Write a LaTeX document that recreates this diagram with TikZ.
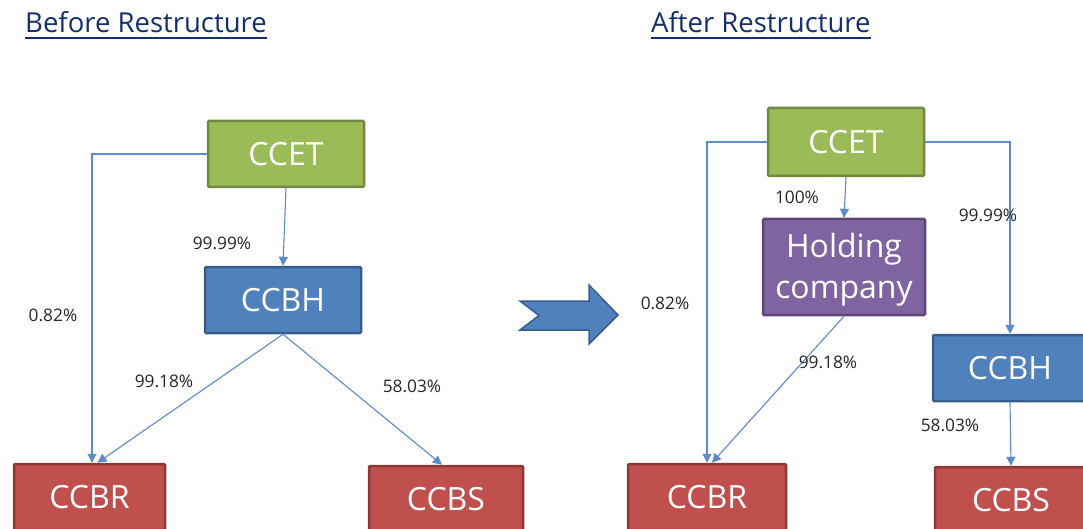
\documentclass[tikz,border=0pt]{standalone}
\usepackage{fontspec}
\setmainfont{Open Sans}
\usetikzlibrary{arrows.meta}
\definecolor{gfill}{HTML}{9BBB59}
\definecolor{gline}{HTML}{71893F}
\definecolor{bfill}{HTML}{4F81BD}
\definecolor{bline}{HTML}{385D8A}
\definecolor{rfill}{HTML}{C0504D}
\definecolor{rline}{HTML}{8C3836}
\definecolor{pfill}{HTML}{8064A2}
\definecolor{pline}{HTML}{5C4776}
\definecolor{conn}{HTML}{5B8BC9}
\definecolor{titlecol}{HTML}{142F6E}
\definecolor{labcol}{HTML}{262626}
\begin{document}
\begin{tikzpicture}[x=1pt,y=-1pt,
  box/.style={draw, line width=2.5pt, rounded corners=1.2pt, inner sep=0pt,
    text=white, font=\fontsize{32}{41}\selectfont, align=center},
  greenbox/.style={box, fill=gfill, draw=gline},
  bluebox/.style={box, fill=bfill, draw=bline},
  redbox/.style={box, fill=rfill, draw=rline},
  purplebox/.style={box, fill=pfill, draw=pline},
  link/.style={draw=conn, line width=1.1pt, -{Triangle[length=9pt,width=9pt]}},
  pct/.style={font=\fontsize{17.3}{21}\selectfont, text=labcol, inner sep=0pt},
  title/.style={font=\fontsize{27.5}{33}\selectfont, text=titlecol, inner sep=0pt, anchor=base west},
  uline/.style={draw=titlecol, line width=2pt}
]
\useasboundingbox (0,0) rectangle (1083,529);
\clip (0,0) rectangle (1083,529);
\fill[white] (0,0) rectangle (1083,529);

% titles
\node[title] (t1) at (25,33) {Before Restructure};
\node[title] (t2) at (651,33) {After Restructure};
\draw[uline] ([yshift=-5.5pt]t1.base west) -- ([yshift=-5.5pt]t1.base east);
\draw[uline] ([yshift=-5.5pt]t2.base west) -- ([yshift=-5.5pt]t2.base east);

% ---------- before ----------
\node[greenbox, minimum width=156pt, minimum height=66pt] (ccetA) at (286,154) {CCET};
\node[bluebox, minimum width=156pt, minimum height=66pt] (ccbhA) at (283,300) {CCBH};
\node[redbox, minimum width=151pt, minimum height=66pt] (ccbrA) at (89.5,497) {CCBR};
\node[redbox, minimum width=154pt, minimum height=66pt] (ccbsA) at (446,499) {CCBS};

\draw[link] (ccetA.west) -| ([xshift=2.5pt]ccbrA.north);
\draw[link] (ccetA.south) -- (ccbhA.north);
\draw[link] (ccbhA.south) -- ([xshift=8pt]ccbrA.north);
\draw[link] (ccbhA.south) -- ([xshift=-4pt]ccbsA.north);

\node[pct] (la1) at (222,243) {99.99\%};
\node[pct] (la2) at (53,315) {0.82\%};
\node[pct] (la3) at (164,381) {99.18\%};
\node[pct] (la4) at (412,386) {58.03\%};

% ---------- block arrow ----------
\draw[fill=bfill, draw=bline, line width=1.5pt, line join=miter]
  (520,301) -- (589,301) -- (589,285) -- (618,315) -- (589,344) -- (589,330)
  -- (520,330) -- (539,315.5) -- cycle;

% ---------- after ----------
\node[greenbox, minimum width=156pt, minimum height=68pt] (ccetB) at (846,142) {CCET};
\node[purplebox, minimum width=162pt, minimum height=96pt] (hold) at (844,267) {};
\node[text=white, font=\fontsize{32}{41}\selectfont, align=center, inner sep=0pt] (holdtxt) at (844,270) {Holding\\company};
\node[bluebox, minimum width=154pt, minimum height=66pt] (ccbhB) at (1010,368) {CCBH};
\node[redbox, minimum width=158pt, minimum height=66pt] (ccbrB) at (707,497) {CCBR};
\node[redbox, minimum width=152pt, minimum height=66pt] (ccbsB) at (1011,500) {CCBS};

\draw[link] (ccetB.west) -| (ccbrB.north);
\draw[link] (ccetB.east) -| (ccbhB.north);
\draw[link] (ccetB.south) -- (hold.north);
\draw[link] (hold.south) -- ([xshift=5pt]ccbrB.north);
\draw[link] (ccbhB.south) -- (ccbsB.north);

\node[pct] (lb1) at (797,197) {100\%};
\node[pct] (lb2) at (988,215) {99.99\%};
\node[pct] (lb3) at (665,303) {0.82\%};
\node[pct] (lb4) at (828,362) {99.18\%};
\node[pct] (lb5) at (950,425) {58.03\%};
\end{tikzpicture}
\end{document}
